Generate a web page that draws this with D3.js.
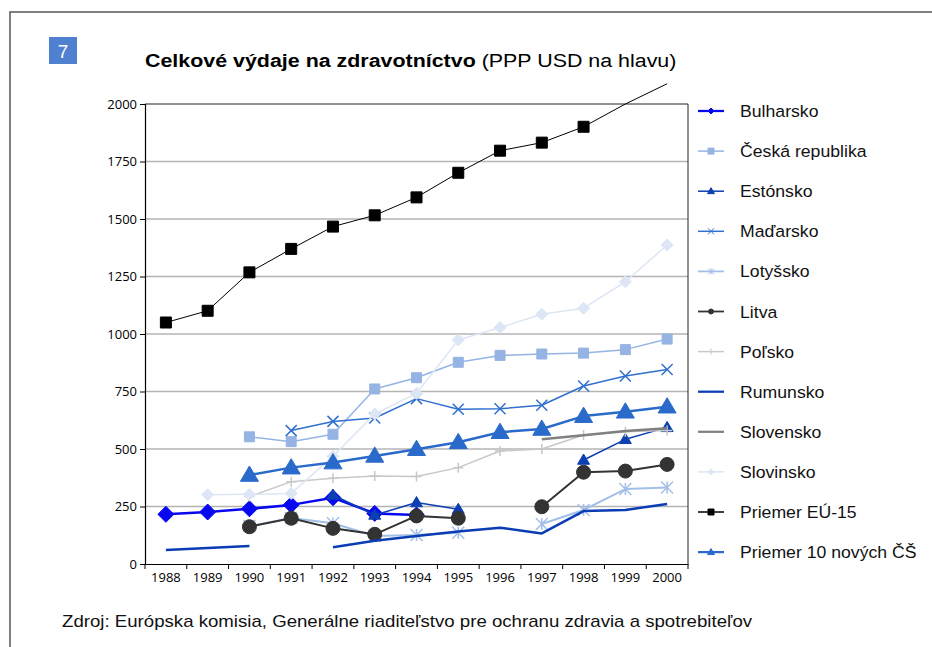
<!DOCTYPE html>
<html><head><meta charset="utf-8">
<script src="https://cdn.jsdelivr.net/npm/d3@7"></script>
<style>
body{margin:0;background:#fff;}
svg{display:block;}
text{font-family:"Liberation Sans",Arial,sans-serif;}
.tick text{font-family:"Open Sans","DejaVu Sans",sans-serif;}
</style></head>
<body><svg id="c" width="932" height="647"></svg>
<script>
const years = [1988,1989,1990,1991,1992,1993,1994,1995,1996,1997,1998,1999,2000];
const yTicks = [0,250,500,750,1000,1250,1500,1750,2000];
const seriesNames = ["Bulharsko","Česká republika","Estónsko","Maďarsko","Lotyšsko","Litva","Poľsko","Rumunsko","Slovensko","Slovinsko","Priemer EÚ-15","Priemer 10 nových ČŠ"];
const bulharsko  = [216,226,240,257,288,220,213,null,null,null,null,null,null];
const ceska      = [null,null,553,532,564,761,810,877,907,913,917,932,978];
const estonsko   = [null,null,null,null,300,213,267,238,null,null,452,542,594];
const madarsko   = [null,null,null,580,620,635,719,673,675,690,774,817,846];
const lotyssko   = [null,null,165,200,177,122,126,136,null,174,235,326,333];
const litva      = [null,null,162,199,155,129,209,199,null,249,399,404,433];
const polsko     = [null,null,293,358,373,383,380,419,491,500,561,575,580];
const rumunsko   = [61,70,78,null,73,101,122,141,158,133,230,235,261];
const slovensko  = [null,null,null,null,null,null,null,null,null,542,560,578,590];
const slovinsko  = [null,301,303,307,468,652,742,974,1028,1086,1112,1227,1387];
const eu15       = [1050,1101,1268,1370,1467,1516,1594,1701,1797,1832,1901,2000,2088];
const nove10     = [null,null,387,419,441,470,499,529,573,587,643,662,684];
const allValues = [bulharsko,ceska,estonsko,madarsko,lotyssko,litva,polsko,rumunsko,slovensko,slovinsko,eu15,nove10];

const styles = [
  {color:"#0808f0", w:2.5, m:"diamond", s:8,  ls:3},
  {color:"#95b4e3", w:1.5, m:"square",  s:5,  ls:3},
  {color:"#0b3fb3", w:1.5, m:"triangle",s:6,  ls:3.5},
  {color:"#3070d0", w:1.5, m:"x",       s:5.5,ls:3},
  {color:"#a3bfe8", w:2,   m:"asterisk",s:6,  ls:3},
  {color:"#333333", w:2,   m:"circle",  s:7,  ls:2.5},
  {color:"#c8c8c8", w:1.5, m:"plus",    s:5,  ls:3},
  {color:"#0a3cb4", w:2.5, m:"none",    s:0,  ls:0},
  {color:"#808080", w:2.5, m:"none",    s:0,  ls:0},
  {color:"#dce6f5", w:1.5, m:"diamond", s:6,  ls:3},
  {color:"#000000", w:1,   m:"square",  s:5.5,ls:3},
  {color:"#2a6acb", w:2.5, m:"triangle",s:9,  ls:3.5}
];

function markerPath(type, s){
  switch(type){
    case "square": return `M${-s},${-s}h${2*s}v${2*s}h${-2*s}Z`;
    case "diamond": return `M0,${-s}L${s},0L0,${s}L${-s},0Z`;
    case "triangle": return `M0,${-s}L${s},${s*0.7}L${-s},${s*0.7}Z`;
    case "circle": return `M${s},0A${s},${s} 0 1,1 ${-s},0A${s},${s} 0 1,1 ${s},0Z`;
    case "x": return `M${-s},${-s}L${s},${s}M${-s},${s}L${s},${-s}`;
    case "plus": return `M${-s},0H${s}M0,${-s}V${s}`;
    case "asterisk": return `M${-s},${-s}L${s},${s}M${-s},${s}L${s},${-s}M0,${-s}V${s}`;
    default: return "";
  }
}
const openMarkers = new Set(["x","plus","asterisk"]);

const svg = d3.select("#c");
const L = 145, R = 688, T = 104, B = 564;

// page border
svg.append("path").attr("d","M10,647V12H932").attr("fill","none").attr("stroke","#555").attr("stroke-width",1.5);

// badge
svg.append("rect").attr("x",49).attr("y",37).attr("width",28).attr("height",27).attr("fill","#4f81d0");
svg.append("text").attr("x",63).attr("y",58).attr("text-anchor","middle").attr("fill","#fff")
  .attr("font-size",19).text("7");

// title
const title = svg.append("text").attr("transform","translate(145,67) scale(1.127,1)").attr("font-size",19).attr("fill","#000");
title.append("tspan").attr("font-weight","bold").text("Celkové výdaje na zdravotníctvo");
title.append("tspan").text(" (PPP USD na hlavu)");

const x = d3.scaleBand().domain(years).range([L,R]).padding(0);
const cx = d => x(d) + x.bandwidth()/2;
const y = d3.scaleLinear().domain([0,2000]).range([B,T]);

// gridlines
svg.append("g").selectAll("line").data(yTicks.filter(t=>t>0 && t<2000)).join("line")
  .attr("x1",L).attr("x2",R).attr("y1",d=>y(d)).attr("y2",d=>y(d))
  .attr("stroke","#b4b4b4").attr("stroke-width",1.5);

// frame top/right
svg.append("path").attr("d",`M${L},${T}H${R}V${B}`).attr("fill","none").attr("stroke","#222").attr("stroke-width",1);

// y axis
const gy = svg.append("g").attr("transform",`translate(${L},0)`)
  .call(d3.axisLeft(y).tickValues(yTicks).tickSize(5).tickPadding(3).tickFormat(d3.format("d")));
gy.select(".domain").attr("stroke","#000").attr("stroke-width",1.2);
gy.selectAll(".tick text").attr("font-size",13).attr("fill","#000");
gy.selectAll(".tick line").attr("stroke","#000");

// x axis
const gx = svg.append("g").attr("transform",`translate(0,${B})`)
  .call(d3.axisBottom(x).tickSize(0).tickPadding(9));
gx.select(".domain").attr("stroke","#000").attr("stroke-width",1.2);
gx.selectAll(".tick text").attr("font-size",13).attr("fill","#000");
const bounds = years.map(d=>x(d)).concat([x(years[years.length-1])+x.bandwidth()]);
gx.append("g").selectAll("line").data(bounds).join("line")
  .attr("x1",d=>d).attr("x2",d=>d).attr("y1",0).attr("y2",5).attr("stroke","#000");

// series
const line = d3.line().defined(d=>d.v!=null).x(d=>cx(d.yr)).y(d=>y(d.v));
allValues.forEach((vals,i)=>{
  const st = styles[i];
  const pts = years.map((yr,j)=>({yr, v: vals[j]}));
  const g = svg.append("g");
  g.append("path").attr("d",line(pts)).attr("fill","none").attr("stroke",st.color)
    .attr("stroke-width",st.w).attr("stroke-linejoin","round");
  if(st.m!=="none"){
    g.selectAll("path.m").data(pts.filter(d=>d.v!=null && d.v<2000)).join("path").attr("class","m")
      .attr("transform",d=>`translate(${cx(d.yr)},${y(d.v)})`)
      .attr("d",markerPath(st.m,st.s))
      .attr("fill",openMarkers.has(st.m)?"none":st.color)
      .attr("stroke",st.color).attr("stroke-width",openMarkers.has(st.m)?1.5:1);
  }
});

// legend
const lg = svg.append("g");
seriesNames.forEach((name,i)=>{
  const st = styles[i];
  const yy = 111 + i*40.1;
  lg.append("line").attr("x1",698).attr("x2",724).attr("y1",yy).attr("y2",yy)
    .attr("stroke",st.color).attr("stroke-width",Math.max(1.5,st.w*0.9));
  if(st.m!=="none"){
    lg.append("path").attr("transform",`translate(711,${yy})`).attr("d",markerPath(st.m,st.ls))
      .attr("fill",openMarkers.has(st.m)?"none":st.color).attr("stroke",st.color).attr("stroke-width",1);
  }
  lg.append("text").attr("transform",`translate(740,${yy+6}) scale(1.07,1)`).attr("font-size",16.5).attr("fill","#111").text(name);
});

// footer
svg.append("text").attr("transform","translate(62,627) scale(1.165,1)").attr("font-size",16).attr("fill","#111")
  .text("Zdroj: Európska komisia, Generálne riaditeľstvo pre ochranu zdravia a spotrebiteľov");
</script></body></html>
